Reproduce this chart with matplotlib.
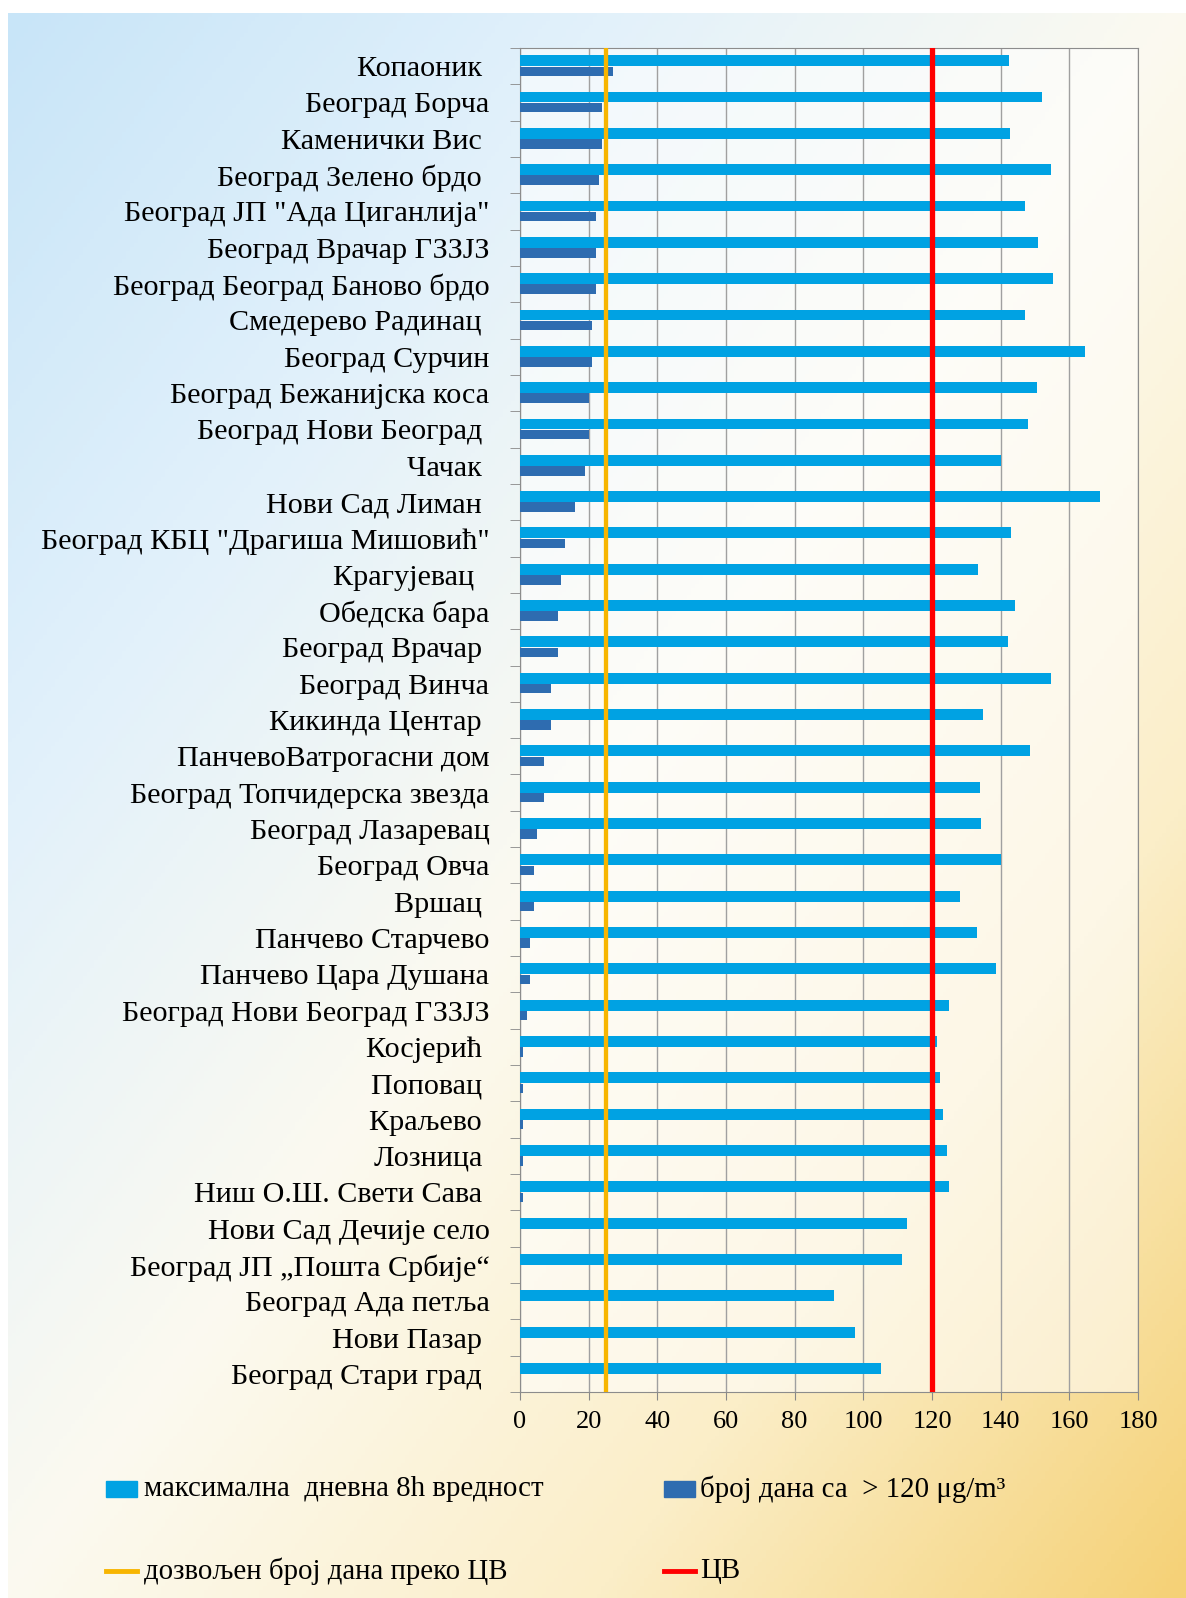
import matplotlib.pyplot as plt
import numpy as np
from matplotlib.colors import LinearSegmentedColormap
from matplotlib.patches import Rectangle
from matplotlib.lines import Line2D

plt.rcParams['font.family'] = ['Liberation Serif', 'DejaVu Serif']

# stations, top to bottom
stations = ['Копаоник ', 'Београд Борча', 'Каменички Вис ', 'Београд Зелено брдо ',
            'Београд ЈП "Ада Циганлија"', 'Београд Врачар ГЗЗЈЗ', 'Београд Београд Баново брдо',
            'Смедерево Радинац ', 'Београд Сурчин', 'Београд Бежанијска коса',
            'Београд Нови Београд ', 'Чачак ', 'Нови Сад Лиман ',
            'Београд КБЦ "Драгиша Мишовић"', 'Крагујевац  ', 'Обедска бара',
            'Београд Врачар ', 'Београд Винча', 'Кикинда Центар ', 'ПанчевоВатрогасни дом',
            'Београд Топчидерска звезда', 'Београд Лазаревац', 'Београд Овча', 'Вршац ',
            'Панчево Старчево', 'Панчево Цара Душана', 'Београд Нови Београд ГЗЗЈЗ',
            'Косјерић ', 'Поповац ', 'Краљево ', 'Лозница ', 'Ниш О.Ш. Свети Сава ',
            'Нови Сад Дечије село', 'Београд ЈП „Пошта Србије“', 'Београд Ада петља',
            'Нови Пазар ', 'Београд Стари град ']

# maximal daily 8h value
max8h = [142.4, 151.9, 142.7, 154.6, 147.1, 151.0, 155.2, 147.1, 164.5, 150.5,
         147.9, 140.0, 168.8, 143.0, 133.3, 144.3, 142.1, 154.6, 134.9, 148.4,
         134.0, 134.3, 140.0, 128.3, 133.0, 138.7, 124.9, 121.5, 122.3, 123.3,
         124.3, 125.0, 112.8, 111.4, 91.6, 97.6, 105.0]

# number of days > 120 ug/m3
days_over = [27, 24, 24, 23, 22, 22, 22, 21, 21, 20,
             20, 19, 16, 13, 12, 11, 11, 9, 9, 7,
             7, 5, 4, 4, 3, 3, 2, 1, 1, 1,
             1, 1, 0, 0, 0, 0, 0]

cv = 120
allowed_days = 25

legend_labels = ['максимална  дневна 8h вредност', 'број дана са  > 120 μg/m³',
                 'дозвољен број дана преко ЦВ', 'ЦВ']

c_max = '#00a2e3'
c_days = '#2e6cb0'
c_allowed = '#f7b500'
c_cv = '#ff0000'

W, H = 1186, 1598
fig = plt.figure(figsize=(W / 100, H / 100), dpi=100)
fig.patch.set_facecolor('white')

# gradient backdrop (blue top-left -> cream -> yellow bottom-right)
bg = fig.add_axes([8 / W, 0, 1 - 8 / W, 1 - 13 / H], zorder=0)
xx, yy = np.meshgrid(np.linspace(0, 1, 300), np.linspace(0, 1, 400))
t = (xx + yy) / 2
cmap = LinearSegmentedColormap.from_list(
    'bg', ['#c8e5f8', '#e2f1fb', '#fcfaf0', '#fbeec8', '#f5d176'])
bg.imshow(t, cmap=cmap, aspect='auto', origin='upper', extent=[0, 1, 0, 1])
bg.axis('off')

ax = fig.add_axes([520 / W, 1 - 1392 / H, 618 / W, (1392 - 48) / H], zorder=1)
ax.set_facecolor((1, 1, 1, 0.55))

y = np.arange(len(stations))
ax.barh(y - 0.15, max8h, height=0.3, color=c_max, zorder=3)
ax.barh(y + 0.14, days_over, height=0.26, color=c_days, zorder=3)
ax.axvline(allowed_days, color=c_allowed, lw=3.1, zorder=4)
ax.axvline(cv, color=c_cv, lw=3.8, zorder=4)

ax.set_xlim(0, 180)
ax.set_ylim(len(stations) - 0.5, -0.5)
ax.set_xticks(range(0, 181, 20))
ax.xaxis.grid(True, color='#a0a0a0', lw=1)
ax.set_axisbelow(True)
ax.set_yticks(y)
ax.set_yticklabels(stations, fontsize=21.7)
ax.set_yticks(np.arange(-0.5, len(stations)), minor=True)
ax.tick_params(axis='y', which='major', length=0, pad=22)
ax.tick_params(axis='y', which='minor', length=7, color='#888888')
ax.tick_params(axis='x', length=6, color='#888888', labelsize=19, pad=8)
for s in ax.spines.values():
    s.set_color('#8c8c8c')

# legend, drawn by hand in pixel positions
def fx(px):
    return px / W

def fy(py):
    return 1 - py / H

rows = [1489, 1571]
cols = [106, 664]
fig.add_artist(Rectangle((fx(cols[0]), fy(rows[0] + 8)), 31 / W, 16 / H,
                         transform=fig.transFigure, color=c_max))
fig.add_artist(Rectangle((fx(cols[1]), fy(rows[0] + 8)), 31 / W, 16 / H,
                         transform=fig.transFigure, color=c_days))
fig.add_artist(Line2D([fx(cols[0]), fx(cols[0] + 31)], [fy(rows[1]), fy(rows[1])],
                      transform=fig.transFigure, color=c_allowed, lw=3.5))
fig.add_artist(Line2D([fx(cols[1]), fx(cols[1] + 31)], [fy(rows[1]), fy(rows[1])],
                      transform=fig.transFigure, color=c_cv, lw=3.5))
fig.text(fx(cols[0] + 38), fy(rows[0]), legend_labels[0], fontsize=20.8, va='center')
fig.text(fx(cols[1] + 36), fy(rows[0]), legend_labels[1], fontsize=20.8, va='center')
fig.text(fx(cols[0] + 38), fy(rows[1]), legend_labels[2], fontsize=20.8, va='center')
fig.text(fx(cols[1] + 36), fy(rows[1]), legend_labels[3], fontsize=20.8, va='center')

plt.savefig('out.png', dpi=100)
